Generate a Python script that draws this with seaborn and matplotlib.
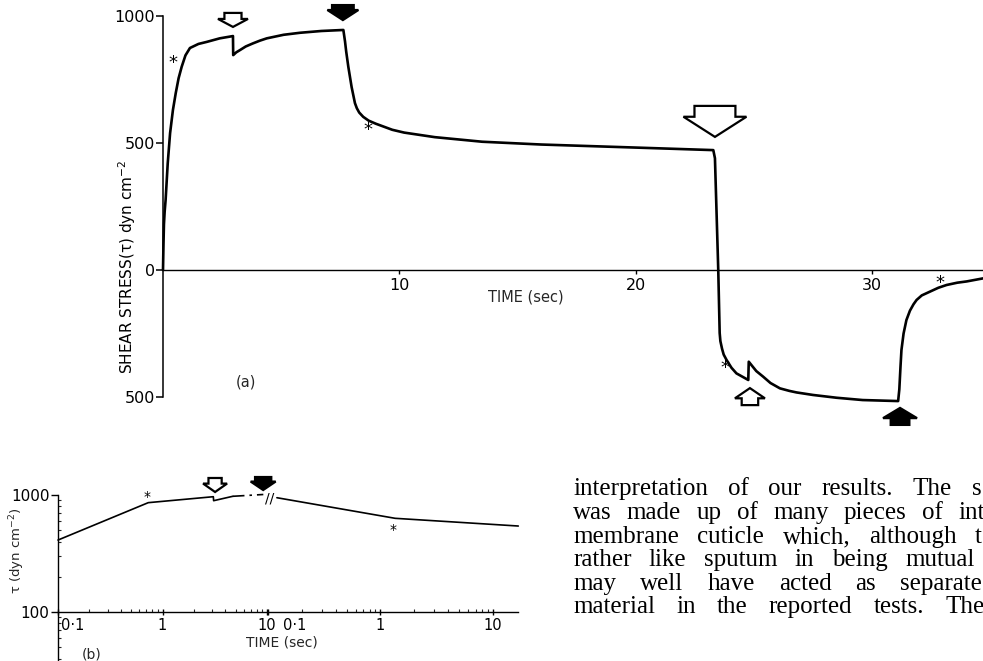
import numpy as np
import pandas as pd
import matplotlib
matplotlib.use("Agg")
import matplotlib.pyplot as plt
import matplotlib.transforms as mtransforms
from matplotlib.patches import Polygon
from matplotlib.ticker import FixedLocator, FixedFormatter, NullFormatter, LogLocator
import seaborn as sns

# ---------------- data ----------------
# panel (a): shear stress vs time (linear axes)
a_time = [0, 0.02, 0.04, 0.07, 0.11, 0.2, 0.3, 0.42, 0.54, 0.66, 0.79, 0.95, 1.14,
          1.5, 1.85, 2.4, 2.96, 2.97, 3.1, 3.26, 3.5, 3.8, 4.1, 4.39, 5.1, 5.8,
          6.7, 7.63, 7.7, 7.75, 7.84, 7.98, 8.12, 8.2, 8.3, 8.47, 8.7, 9.0, 9.7,
          10.2, 11.5, 13.5, 16.0, 20.0, 23.28, 23.35, 23.49, 23.55, 23.58, 23.65,
          23.72, 23.84, 24.05, 24.26, 24.76, 24.78, 24.9, 25.1, 25.39, 25.7, 26.1,
          26.5, 26.8, 27.5, 28.5, 29.6, 31.1, 31.15, 31.2, 31.24, 31.33, 31.45,
          31.6, 31.75, 31.88, 32.1, 32.45, 32.8, 33.15, 33.6, 34.0, 34.69]
a_stress = [0, 100, 180, 230, 275, 420, 539, 630, 697, 755, 800, 845, 874,
            890, 898, 912, 921, 846, 857, 866, 880, 892, 903, 912, 926, 934,
            941, 945, 900, 860, 800, 720, 657, 637, 620, 603, 588, 576, 552,
            541, 523, 505, 494, 482, 472, 440, 0, -248, -280, -310,
            -333, -354, -385, -407, -433, -361, -375, -398, -420, -445, -466,
            -476, -482, -492, -503, -512, -516, -470, -380, -315, -250, -197,
            -160, -135, -118, -100, -85, -70, -59, -50, -45, -33]
a_yticks = [1000, 500, 0, -500]
a_yticklabels = ["1000", "500", "0", "500"]
a_xticks = [10, 20, 30]
a_xticklabels = ["10", "20", "30"]
# events in (a): time, stress at arrow tip, direction, filled
a_events_time = [2.96, 7.61, 23.35, 24.83, 31.18]
a_events_tip = [957, 984, 524, -465, -543]
a_events_dir = ["down", "down", "down", "up", "up"]
a_events_filled = [False, True, False, False, True]
a_star_time = [0.41, 8.68, 23.77, 32.87]
a_star_stress = [815, 551, -386, -51]

# panel (b): log-log, two time segments
b1_time = [0.1, 0.73, 3.06, 3.08, 4.7]
b1_stress = [412, 860, 967, 894, 975]
b1_dash_time = [4.7, 9.2]
b1_dash_stress = [975, 1010]
b2_time = [0.12, 1.35, 16.8]
b2_stress = [948, 632, 543]
b_xticks = [0.1, 1, 10]
b_xticklabels = ["0·1", "1", "10"]
b_yticks = [100, 1000]
b_yticklabels = ["100", "1000"]
b_events_time = [3.18, 9.17]
b_events_tip = [1061, 1103]
b_events_filled = [False, True]
b_star_time = [0.71, 1.3]
b_star_stress = [967, 502]

paragraph = [
    ["interpretation", "of", "our", "results.", "The", "s"],
    ["was", "made", "up", "of", "many", "pieces", "of", "int"],
    ["membrane", "cuticle", "which,", "although", "t"],
    ["rather", "like", "sputum", "in", "being", "mutual"],
    ["may", "well", "have", "acted", "as", "separate"],
    ["material", "in", "the", "reported", "tests.", "The"],
]

# ---------------- layout ----------------
W, H = 983, 661
sns.set_theme(style="white")
plt.rcParams["font.family"] = ["DejaVu Sans"]
plt.rcParams["axes.linewidth"] = 1.1
fig = plt.figure(figsize=(W / 100, H / 100), dpi=100)
fig.patch.set_facecolor("white")


def fx(px):
    return px / W


def fy(py):
    return 1 - py / H


SANS = 11


def block_arrow(ax, x, y, w_px, h_px, direction, filled, shaft_w=0.6, shaft_h=0.4):
    w = w_px / 100.0
    h = h_px / 100.0
    hw = w / 2
    s = w * shaft_w / 2
    hh = h * (1 - shaft_h)
    sgn = 1 if direction == "down" else -1
    verts = [(0, 0), (-hw, sgn * hh), (-s, sgn * hh), (-s, sgn * h),
             (s, sgn * h), (s, sgn * hh), (hw, sgn * hh)]
    trans = fig.dpi_scale_trans + mtransforms.ScaledTranslation(x, y, ax.transData)
    patch = Polygon(verts, closed=True, transform=trans,
                    facecolor="black" if filled else "white",
                    edgecolor="black", lw=1.6, clip_on=False, zorder=5,
                    joinstyle="miter")
    ax.add_artist(patch)


# ---- panel (a)
ax = fig.add_axes([fx(163), fy(397), fx(820), 381 / H])
ax.set_facecolor("none")
df_a = pd.DataFrame({"t": a_time, "s": a_stress})
sns.lineplot(data=df_a, x="t", y="s", ax=ax, color="black", linewidth=1.9,
             sort=False, estimator=None, clip_on=False)
ax.lines[-1].set_solid_joinstyle("round")
ax.set_xlim(0, 34.69)
ax.set_ylim(-500, 1000)
for sp in ["top", "right"]:
    ax.spines[sp].set_visible(False)
ax.spines["bottom"].set_position(("data", 0))
ax.spines["left"].set_color("black")
ax.spines["bottom"].set_color("black")
ax.spines["bottom"].set_linewidth(1.0)
ax.set_yticks(a_yticks)
ax.set_yticklabels(a_yticklabels)
ax.set_xticks(a_xticks)
ax.set_xticklabels(a_xticklabels)
ax.tick_params(axis="y", direction="out", length=5, width=1.1, pad=1,
               labelsize=SANS + 0.5, colors="black", left=True)
ax.tick_params(axis="x", direction="out", length=3, width=1.0, pad=3,
               labelsize=SANS + 0.5, colors="black", bottom=True)
ax.set_xlabel("")
ax.set_ylabel("SHEAR STRESS(τ) dyn cm$^{-2}$", fontsize=SANS, color="black")
ax.yaxis.set_label_coords(-0.031, 0.341)
ax.grid(False)

arrow_shapes = [(30, 14, 0.57, 0.43), (31, 15, 0.7, 0.33), (63, 31, 0.65, 0.35),
                (30, 17, 0.55, 0.4), (34, 17, 0.55, 0.4)]
for (t, tip, d, f), (w, h, sw, sh) in zip(
        zip(a_events_time, a_events_tip, a_events_dir, a_events_filled), arrow_shapes):
    block_arrow(ax, t, tip, w, h, d, f, sw, sh)
for t, s in zip(a_star_time, a_star_stress):
    ax.text(t, s, "*", ha="center", va="center", fontsize=13, color="black")

fig.text(fx(526), fy(297), "TIME (sec)", ha="center", va="center", fontsize=SANS - 0.5)
fig.text(fx(246), fy(382), "(a)", ha="center", va="center", fontsize=SANS - 0.5)

# ---- panel (b)
b_ylim = (38.1, 1000)
axb1 = fig.add_axes([fx(58), 0, fx(210), 166 / H])
axb2 = fig.add_axes([fx(268), 0, fx(250), 166 / H])
for a_ in (axb1, axb2):
    a_.set_facecolor("none")
    a_.set_xscale("log")
    a_.set_yscale("log")
    a_.grid(False)
    for sp in ["top", "right"]:
        a_.spines[sp].set_visible(False)
    a_.spines["bottom"].set_position(("data", 100))
    a_.spines["bottom"].set_linewidth(1.0)
    a_.spines["left"].set_linewidth(1.0)
    a_.spines["bottom"].set_color("black")
    a_.spines["left"].set_color("black")

df_b1 = pd.DataFrame({"t": b1_time, "s": b1_stress})
df_b1d = pd.DataFrame({"t": b1_dash_time, "s": b1_dash_stress})
df_b2 = pd.DataFrame({"t": b2_time, "s": b2_stress})
sns.lineplot(data=df_b1, x="t", y="s", ax=axb1, color="black", linewidth=1.2,
             sort=False, estimator=None, clip_on=False)
sns.lineplot(data=df_b1d, x="t", y="s", ax=axb1, color="black", linewidth=1.2,
             sort=False, estimator=None, clip_on=False)
axb1.lines[-1].set_dashes([7, 3, 1.5, 3])
sns.lineplot(data=df_b2, x="t", y="s", ax=axb2, color="black", linewidth=1.2,
             sort=False, estimator=None, clip_on=False)
axb1.set_xlim(0.1, 10.2)
axb2.set_xlim(0.1, 16.7)
axb1.set_ylim(*b_ylim)
axb2.set_ylim(*b_ylim)
axb2.spines["left"].set_visible(False)

for a_ in (axb1, axb2):
    a_.xaxis.set_major_locator(FixedLocator(b_xticks))
    a_.xaxis.set_major_formatter(FixedFormatter(b_xticklabels))
    a_.xaxis.set_minor_locator(LogLocator(base=10, subs=np.arange(2, 10)))
    a_.xaxis.set_minor_formatter(NullFormatter())
    a_.tick_params(axis="x", which="major", direction="inout", length=5, width=1.0,
                   pad=2, labelsize=SANS - 0.5, colors="black", bottom=True)
    a_.tick_params(axis="x", which="minor", direction="in", length=2, width=0.8,
                   bottom=True)
    a_.set_xlabel("")
    a_.set_ylabel("")
axb1.yaxis.set_major_locator(FixedLocator(b_yticks))
axb1.yaxis.set_major_formatter(FixedFormatter(b_yticklabels))
axb1.yaxis.set_minor_locator(LogLocator(base=10, subs=np.arange(2, 10)))
axb1.yaxis.set_minor_formatter(NullFormatter())
axb1.tick_params(axis="y", which="major", direction="out", length=5, width=1.0,
                 pad=1, labelsize=SANS, colors="black", left=True)
axb1.tick_params(axis="y", which="minor", direction="in", length=2, width=0.8, left=True)
axb2.tick_params(axis="y", which="both", left=False, labelleft=False)

fig.canvas.draw()
for a_, off in ((axb1, 3), (axb2, 15)):
    for lab in a_.get_xticklabels():
        if lab.get_text() == "0·1":
            lab.set_ha("left")
            lab.set_transform(lab.get_transform() +
                              mtransforms.ScaledTranslation(off / 100, 0, fig.dpi_scale_trans))

for t, tip, f in zip(b_events_time, b_events_tip, b_events_filled):
    if f:
        block_arrow(axb1, t, tip, 25, 13, "down", True, 0.65, 0.35)
    else:
        block_arrow(axb1, t, tip, 24, 14, "down", False, 0.55, 0.4)
for t, s, a_ in zip(b_star_time, b_star_stress, (axb1, axb2)):
    a_.text(t, s, "*", ha="center", va="center", fontsize=10, color="black")
fig.text(fx(270), fy(499), "//", ha="center", va="center", fontsize=10, color="black")

fig.text(fx(17), fy(551), "τ (dyn cm$^{-2}$)", rotation=90, ha="center", va="center",
         fontsize=SANS - 1.5)
fig.text(fx(282), fy(643), "TIME (sec)", ha="center", va="center", fontsize=SANS - 1)
fig.text(fx(92), fy(654), "(b)", ha="center", va="center", fontsize=SANS - 1)

# ---- paragraph text (justified journal column, cut at the right edge)
line_left = 573
last_word_x = [972, 958, 975, 905, 900, 945]
line_base = [495, 519, 543, 566, 590, 613]
renderer = fig.canvas.get_renderer()
serif = ["Liberation Serif", "DejaVu Serif"]
for words, last_x, yb in zip(paragraph, last_word_x, line_base):
    objs = [fig.text(0, 0, wd, ha="left", va="baseline", fontsize=18,
                     family=serif, color="black") for wd in words]
    widths = [o.get_window_extent(renderer).width for o in objs]
    gap = (last_x - line_left - sum(widths[:-1])) / (len(words) - 1)
    x = line_left
    for o, wdt in zip(objs, widths):
        o.set_position((fx(x), fy(yb)))
        x += wdt + gap

fig.savefig("out.png", dpi=100, facecolor="white")
